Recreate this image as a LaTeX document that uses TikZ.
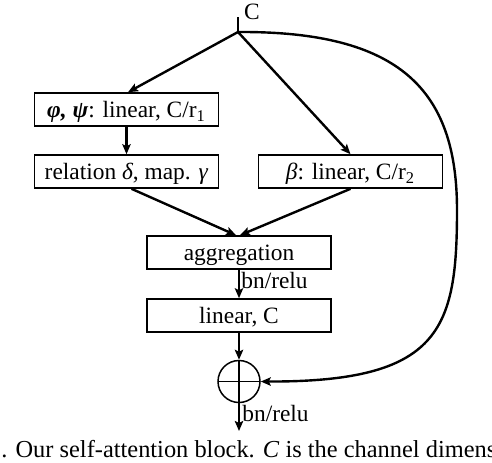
\documentclass[tikz,border=0pt]{standalone}
\usepackage{fontspec}
\setmainfont{Liberation Serif}
\usetikzlibrary{arrows.meta}
\begin{document}
\begin{tikzpicture}[x=0.5pt,y=-0.5pt,
  font=\fontsize{11.7}{14}\selectfont,
  box/.style={draw,line width=0.8pt,minimum width=92pt,minimum height=16.5pt,inner sep=0pt,text height=9.5pt,text depth=1.5pt},
  conn/.style={line width=1.2pt,-{Stealth[length=5pt,width=4.2pt,inset=1pt]}},
  lbl/.style={inner sep=0pt,anchor=base west}]
\clip (0,0) rectangle (492,462);
\useasboundingbox (0,0) rectangle (492,462);
\node[box] (phi) at (126.5,109.5) {\textbf{\textit{φ, ψ}}: linear, C/r\textsubscript{1}};
\node[box] (rel) at (126.5,171.5) {relation \textit{δ}, map. \textit{γ}};
\node[box] (beta) at (350.5,171.5) {\textit{β}: linear, C/r\textsubscript{2}};
\node[box] (agg) at (239,252.5) {aggregation};
\node[box] (lin) at (239,315.5) {linear, C};
\node[draw,circle,line width=0.75pt,minimum size=21pt,inner sep=0pt,
  path picture={\draw[line width=0.75pt] (path picture bounding box.north) -- (path picture bounding box.south) (path picture bounding box.west) -- (path picture bounding box.east);}] (sum) at (239,381.5) {};
\coordinate (stub) at (238,17);
\coordinate (split) at (238,32);
\coordinate (out) at (239,431);
\node[inner sep=0pt] (clab) at (252,12) {C};
\draw[line width=1.2pt] (stub) -- (split);
\draw[conn] (split) -- ([xshift=0.75pt]phi.north);
\draw[conn] (split) -- (beta.north);
\draw[conn] (phi) -- (rel);
\draw[conn] ([xshift=2.5pt]rel.south) -- ([xshift=-1.5pt]agg.north);
\draw[conn] (beta.south) -- ([xshift=0.5pt]agg.north);
\draw[conn] (agg) -- (lin);
\draw[conn] (lin) -- (sum);
\draw[conn] (sum) -- (out);
\draw[conn] (split) .. controls (400,31) and (457,90) .. (457,210) .. controls (457,330) and (440,382) .. (sum.east);
\node[lbl] (bn1) at (241,288) {bn/relu};
\node[lbl] (bn2) at (242,421) {bn/relu};
\node[lbl,font=\fontsize{12.2}{14}\selectfont] (cap) at (1,457) {. Our self-attention block. \textit{C} is the channel dimension};
\end{tikzpicture}
\end{document}
